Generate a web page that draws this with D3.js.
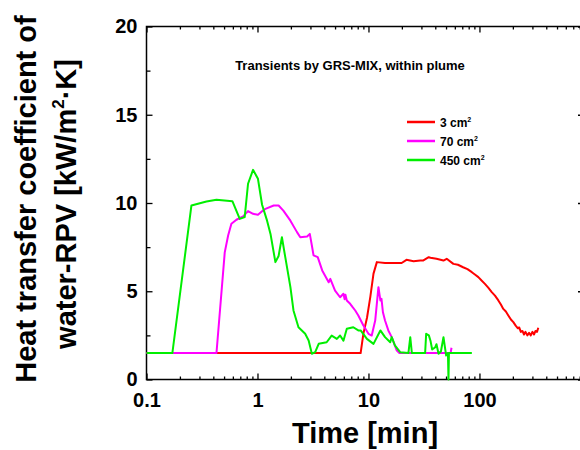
<!DOCTYPE html>
<html>
<head>
<meta charset="utf-8">
<script src="https://cdn.jsdelivr.net/npm/d3@7"></script>
<style>
  body { margin: 0; background: #fff; }
  svg { display: block; font-family: "Liberation Sans", Arial, sans-serif; font-weight: bold; }
</style>
</head>
<body>
<div id="chart"></div>
<script>
// Series: time [min] and heat transfer coefficient.
const redTime = [0.1, 8.5, 9.0, 9.7, 10.4, 11.1, 11.9, 14.1, 19.9, 22, 25.5, 29.3, 31, 34.9,
  36.2, 41, 47.4, 50.7, 58.2, 64, 71.2, 78, 85.4, 91, 97.7, 104, 112, 120, 129, 138, 148,
  156, 164, 173, 182, 192, 202, 212, 222, 228, 236, 244, 252, 260, 270, 280, 290, 300,
  310, 320, 330, 339];
const redValue = [1.5, 1.5, 2.6, 3.5, 4.7, 6.0, 6.65, 6.6, 6.6, 6.78, 6.7, 6.74, 6.74, 6.93,
  6.9, 6.84, 6.74, 6.84, 6.55, 6.5, 6.36, 6.25, 6.08, 5.95, 5.8, 5.62, 5.42, 5.2, 4.95, 4.75,
  4.48, 4.25, 4.0, 3.85, 3.63, 3.4, 3.25, 3.05, 2.9, 2.95, 2.7, 2.75, 2.55, 2.7, 2.5, 2.65,
  2.5, 2.7, 2.55, 2.75, 2.7, 2.93];

const magentaTime = [0.1, 0.427, 0.507, 0.544, 0.582, 0.646, 0.742, 0.822, 0.912, 1.01,
  1.12, 1.18, 1.40, 1.55, 1.71, 1.98, 2.27, 2.43, 2.8, 2.96, 3.09, 3.2, 3.49, 3.83, 4.38,
  4.53, 5.0, 5.55, 5.95, 6.1, 6.2, 6.38, 6.84, 7.2, 7.6, 8.1, 9.0, 10.0, 10.7, 11.5, 12.3,
  12.8, 13.1, 13.5, 14.1, 15.1, 16.2, 18.0, 19, 55, 56];
const magentaValue = [1.5, 1.5, 7.2, 8.16, 8.82, 9.05, 9.24, 9.54, 9.39, 9.33, 9.57, 9.67,
  9.86, 9.86, 9.57, 9.0, 8.35, 8.06, 8.1, 8.25, 7.59, 7.03, 6.93, 6.18, 5.51, 5.7, 5.04,
  4.66, 4.86, 4.55, 4.8, 4.48, 4.29, 4.1, 3.91, 3.63, 3.06, 2.59, 2.49, 3.34, 5.23, 4.48,
  4.57, 3.81, 3.34, 2.78, 2.4, 1.64, 1.5, 1.5, 1.8];

const greenTime = [0.1, 0.171, 0.254, 0.347, 0.427, 0.594, 0.692, 0.767, 0.822, 0.912, 1.01,
  1.10, 1.22, 1.31, 1.45, 1.55, 1.66, 1.78, 1.98, 2.11, 2.34, 2.69, 2.89, 3.09, 3.31, 3.56,
  4.2, 4.66, 5.19, 5.55, 5.95, 6.38, 7.3, 8.1, 8.5, 9.68, 11.1, 12.8, 14.1, 15.7, 16.2,
  17.3, 19.3, 22.9, 23.8, 24.6, 32.4, 33.1, 35, 36.2, 37.5, 40, 41, 42.8, 45, 47.4, 50.1,
  52, 52.6, 53.1, 85.4];
const greenValue = [1.5, 1.5, 9.86, 10.08, 10.18, 10.1, 9.1, 9.2, 11.09, 11.88, 11.37, 9.9,
  9.0, 8.25, 6.65, 7.0, 8.06, 6.93, 5.23, 3.91, 2.96, 2.59, 2.21, 1.46, 1.55, 2.02, 2.11,
  2.49, 2.3, 2.49, 2.2, 2.87, 2.96, 2.78, 2.78, 2.3, 2.02, 2.78, 2.4, 2.11, 2.4, 1.93, 1.55,
  1.5, 2.4, 1.5, 1.5, 2.59, 2.5, 2.2, 1.7, 1.83, 2.0, 1.46, 1.6, 2.4, 1.36, 1.5, 0, 1.5, 1.5];

const seriesNames = ["3 cm", "70 cm", "450 cm"];
const seriesColors = ["#ff0000", "#ff00ff", "#00ee00"];

const xMajorTicks = [0.1, 1, 10, 100];
const yMajorTicks = [0, 5, 10, 15, 20];
const yMinorTicks = [2.5, 7.5, 12.5, 17.5];

// Dimensions of the window and the plot frame.
const width = 580;
const height = 450;
const frame = { left: 146.5, top: 26.5, right: 584, bottom: 379.5 };

const x = d3.scaleLog()
  .domain([0.1, 875])
  .range([frame.left, frame.right]);

const y = d3.scaleLinear()
  .domain([0, 20])
  .range([frame.bottom, frame.top]);

// Minor log ticks: 2..9 in each decade.
const xMinorTicks = [];
[0.1, 1, 10, 100].forEach(d => {
  for (let k = 2; k <= 9; k++) xMinorTicks.push(d * k);
});

const svg = d3.select("#chart")
  .append("svg")
    .attr("width", width)
    .attr("height", height);

function styleAxis(g) {
  g.select(".domain").remove();
  g.selectAll(".tick line")
    .attr("stroke", "#000")
    .attr("stroke-width", 1.3);
  g.selectAll("text")
    .attr("fill", "#000")
    .style("font-size", "20px")
    .style("font-weight", "bold")
    .style("font-family", "Liberation Sans, Arial, sans-serif");
}

// Bottom axis with labels.
svg.append("g")
  .attr("transform", `translate(0,${frame.bottom})`)
  .call(d3.axisBottom(x).tickValues(xMajorTicks).tickSize(-6).tickPadding(13)
    .tickFormat(d3.format("~g")))
  .call(styleAxis);

svg.append("g")
  .attr("transform", `translate(0,${frame.bottom})`)
  .call(d3.axisBottom(x).tickValues(xMinorTicks).tickSize(-3).tickFormat(""))
  .call(styleAxis);

// Top axis mirrors the bottom one, no labels.
svg.append("g")
  .attr("transform", `translate(0,${frame.top})`)
  .call(d3.axisTop(x).tickValues(xMajorTicks).tickSize(-6).tickFormat(""))
  .call(styleAxis);

svg.append("g")
  .attr("transform", `translate(0,${frame.top})`)
  .call(d3.axisTop(x).tickValues(xMinorTicks).tickSize(-3).tickFormat(""))
  .call(styleAxis);

// Left axis with labels.
svg.append("g")
  .attr("transform", `translate(${frame.left},0)`)
  .call(d3.axisLeft(y).tickValues(yMajorTicks).tickSize(-6).tickPadding(9))
  .call(styleAxis);

svg.append("g")
  .attr("transform", `translate(${frame.left},0)`)
  .call(d3.axisLeft(y).tickValues(yMinorTicks).tickSize(-4).tickFormat(""))
  .call(styleAxis);

// Right axis, ticks only.
svg.append("g")
  .attr("transform", `translate(${frame.right},0)`)
  .call(d3.axisRight(y).tickValues(yMajorTicks).tickSize(-6).tickFormat(""))
  .call(styleAxis);

svg.append("g")
  .attr("transform", `translate(${frame.right},0)`)
  .call(d3.axisRight(y).tickValues(yMinorTicks).tickSize(-4).tickFormat(""))
  .call(styleAxis);

// Frame.
svg.append("rect")
  .attr("x", frame.left)
  .attr("y", frame.top)
  .attr("width", frame.right - frame.left)
  .attr("height", frame.bottom - frame.top)
  .attr("fill", "none")
  .attr("stroke", "#000")
  .attr("stroke-width", 1.5);

// Curves, drawn red first so green ends up on top.
const line = d3.line()
  .x(d => x(d[0]))
  .y(d => y(d[1]));

const series = [
  d3.zip(redTime, redValue),
  d3.zip(magentaTime, magentaValue),
  d3.zip(greenTime, greenValue),
];

svg.append("g")
  .selectAll("path")
  .data(series)
  .enter()
  .append("path")
    .attr("d", line)
    .attr("fill", "none")
    .attr("stroke", (d, i) => seriesColors[i])
    .attr("stroke-width", 2)
    .attr("stroke-linejoin", "round");

// Title inside the plot.
svg.append("text")
  .attr("x", 350)
  .attr("y", 70)
  .attr("text-anchor", "middle")
  .style("font-size", "13px")
  .text("Transients by GRS-MIX, within plume");

// Legend.
const legend = svg.append("g")
  .selectAll("g")
  .data(seriesNames)
  .enter()
  .append("g")
    .attr("transform", (d, i) => `translate(407,${122 + i * 19})`);

legend.append("line")
  .attr("x1", 0)
  .attr("x2", 28)
  .attr("stroke", (d, i) => seriesColors[i])
  .attr("stroke-width", 2.5);

const legendText = legend.append("text")
  .attr("x", 33)
  .attr("y", 4.5)
  .style("font-size", "12px")
  .text(d => d);

legendText.append("tspan")
  .attr("dy", -5)
  .style("font-size", "7px")
  .text("2");

// Axis titles.
svg.append("text")
  .attr("x", 365)
  .attr("y", 443)
  .attr("text-anchor", "middle")
  .style("font-size", "29px")
  .text("Time [min]");

svg.append("text")
  .attr("transform", "translate(36,199) rotate(-90)")
  .attr("text-anchor", "middle")
  .style("font-size", "29px")
  .text("Heat transfer coefficient of");

const yTitle2 = svg.append("text")
  .attr("transform", "translate(76,204) rotate(-90)")
  .attr("text-anchor", "middle")
  .style("font-size", "29px");

yTitle2.append("tspan").text("water-RPV [kW/m");
yTitle2.append("tspan")
  .attr("dy", -12)
  .style("font-size", "17px")
  .text("2");
yTitle2.append("tspan")
  .attr("dy", 12)
  .text("·K]");
</script>
</body>
</html>
